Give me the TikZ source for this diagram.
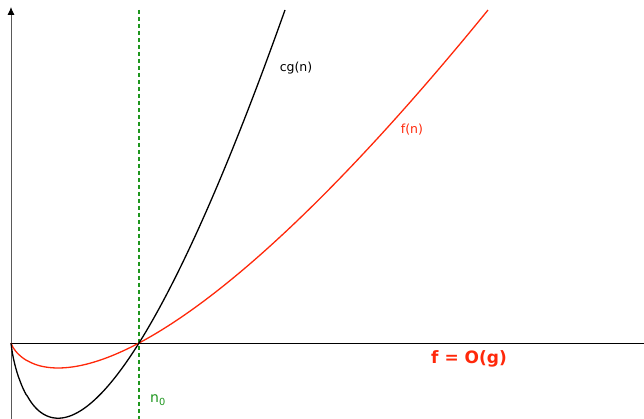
\documentclass[tikz,border=0pt]{standalone}
\usepackage{fontspec}
\setmainfont{DejaVu Sans}
\usetikzlibrary{arrows.meta}
\definecolor{fred}{RGB}{255,40,10}
\definecolor{ngreen}{RGB}{30,150,30}
\begin{document}
\begin{tikzpicture}[x=1pt, y=1pt,
  axis/.style={line width=0.9pt},
  curve/.style={line width=1.3pt, smooth},
  lbl/.style={font=\fontsize{12.5}{15}\selectfont, inner sep=1pt}
]
\useasboundingbox (-11,-76) rectangle (633,343);
\coordinate (origin) at (0,0);
\coordinate (ytop) at (0,336);
\coordinate (ybot) at (0,-76);
\coordinate (xend) at (633,0);
\coordinate (ntop) at (128,333);
\coordinate (nbot) at (128,-76);

\draw[axis, gray!70!black, -{Latex[length=8pt, width=7pt, black]}] (ybot) -- (ytop);
\draw[axis] (origin) -- (xend);
\draw[ngreen, line width=1.1pt, dash pattern=on 4pt off 3pt] (ntop) -- (nbot);

\draw[curve, fred] plot[domain=0.01:477, samples=220] (\x, {0.5307*\x*ln(\x/128)});
\draw[curve, black] plot[domain=0.01:274, samples=220] (\x, {1.597*\x*ln(\x/128)});

\node[lbl] (cg) at (285,275) {cg(n)};
\node[lbl, text=fred] (f) at (401,213) {f(n)};
\node[lbl, text=ngreen, font=\fontsize{14}{16}\selectfont] (n0) at (147,-57) {n\textsubscript{0}};
\node[text=fred, font=\fontsize{17}{20}\selectfont\bfseries] (bigo) at (458,-16) {f = O(g)};
\end{tikzpicture}
\end{document}
